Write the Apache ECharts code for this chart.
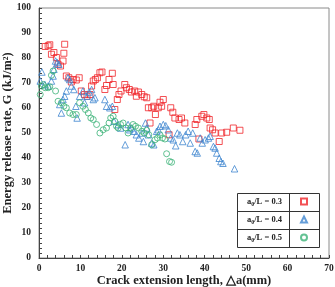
<!DOCTYPE html>
<html lang="en">
<head>
    <meta charset="UTF-8">
    <title>Energy release rate</title>
    <style>
        html, body { margin: 0; padding: 0; background: #fff; }
    </style>
</head>
<body>
<div id="container" style="width:335px;height:287px"></div>
<script type="text/javascript" src="https://cdn.jsdelivr.net/npm/echarts@6/dist/echarts.min.js"></script>
<script type="text/javascript">
    // data: [crack extension (mm), G (kJ/m2)]
    var seriesNames = ['a0/L = 0.3', 'a0/L = 0.4', 'a0/L = 0.5'];
    var seriesColors = ['#f0262a', '#3f86cf', '#3cb378'];
    var xTitle = 'Crack extension length, \u25b3a(mm)';
    var yTitle = 'Energy release rate, G (kJ/m\u00b2)';

    var ratio03 = [
        [1.5, 84.6], [2.2, 84.9], [2.6, 85.3], [3.0, 81.5], [3.6, 82.2], [4.2, 80.2], [4.6, 77.5],
        [5.2, 76.8], [5.8, 78.8], [6.0, 81.9], [6.2, 85.5], [6.6, 72.8], [7.2, 72.1], [7.8, 70.4],
        [8.2, 71.4], [9.0, 71.2], [9.7, 72.1], [10.2, 66.8], [11.0, 65.4], [11.6, 64.7], [12.3, 65.4],
        [12.7, 68.8], [13.1, 70.8], [13.6, 71.4], [14.1, 72.1], [14.7, 74.1], [15.2, 74.4], [15.9, 67.4],
        [16.3, 69.0], [16.9, 71.4], [17.7, 73.9], [17.9, 69.4], [18.3, 59.4], [18.9, 63.4], [19.3, 65.4],
        [19.8, 66.8], [20.7, 69.4], [21.1, 68.1], [21.8, 67.4], [22.3, 66.4], [23.1, 66.8], [23.5, 64.7],
        [24.0, 66.4], [24.8, 65.4], [25.4, 64.5], [26.0, 64.1], [26.4, 60.1], [26.8, 54.0], [27.2, 60.1],
        [27.7, 60.7], [28.1, 57.4], [28.8, 60.1], [29.2, 62.3], [29.6, 60.7], [30.0, 63.4], [31.4, 49.3],
        [31.8, 60.1], [32.3, 58.3], [32.8, 56.0], [33.8, 55.4], [34.4, 56.0], [35.2, 54.0], [37.7, 53.4],
        [38.1, 55.4], [38.6, 47.6], [39.3, 56.7], [39.8, 57.4], [40.5, 56.0], [41.1, 55.4], [41.3, 52.0],
        [41.9, 51.3], [42.5, 50.0], [43.5, 46.6], [44.1, 50.0], [45.3, 50.3], [46.9, 52.0], [48.5, 51.1]
    ];

    var ratio04 = [
        [0.3, 70.8], [0.7, 74.4], [1.4, 69.4], [2.2, 68.8], [3.0, 70.8], [3.4, 72.8], [3.6, 75.5],
        [4.0, 78.8], [4.4, 78.2], [4.8, 77.5], [5.0, 61.4], [5.4, 58.0], [5.8, 63.4], [6.2, 64.7],
        [6.6, 66.8], [7.0, 72.1], [7.4, 71.4], [7.8, 68.8], [8.4, 67.4], [8.9, 60.7], [9.2, 56.0],
        [9.8, 64.7], [10.6, 66.8], [11.0, 62.1], [11.6, 64.7], [12.1, 66.4], [12.7, 67.4], [13.1, 63.4],
        [13.5, 64.1], [15.9, 63.4], [16.3, 60.7], [17.1, 60.1], [17.7, 60.7], [18.1, 54.7], [19.1, 53.4],
        [19.7, 52.0], [20.8, 45.3], [21.5, 53.4], [21.9, 51.3], [22.3, 52.0], [22.9, 50.7], [23.5, 49.3],
        [24.1, 48.0], [24.8, 50.0], [25.2, 46.6], [25.7, 54.0], [26.0, 52.0], [26.4, 49.3], [27.2, 46.0],
        [27.7, 45.3], [28.4, 50.7], [28.8, 51.3], [29.2, 52.7], [30.0, 53.4], [30.6, 52.9], [31.2, 51.3],
        [31.8, 48.0], [32.4, 47.3], [33.0, 44.9], [33.4, 50.0], [34.0, 49.3], [34.7, 46.6], [35.4, 49.3],
        [36.0, 50.7], [36.5, 46.0], [37.1, 50.0], [37.7, 42.6], [38.2, 42.0], [38.9, 48.0], [39.4, 46.0],
        [40.1, 47.3], [40.9, 48.0], [41.3, 48.7], [42.1, 44.6], [42.5, 44.0], [42.9, 42.0], [43.5, 39.9],
        [43.9, 38.6], [44.4, 37.9], [47.2, 35.7]
    ];

    var ratio05 = [
        [0.3, 65.4], [0.6, 68.8], [1.0, 69.4], [1.5, 68.1], [2.2, 68.1], [2.6, 68.5], [3.0, 73.1],
        [3.4, 74.8], [4.0, 66.8], [4.6, 62.7], [5.4, 62.1], [6.0, 60.7], [6.6, 60.1], [7.4, 58.0],
        [8.2, 57.4], [9.0, 57.4], [9.8, 62.1], [10.6, 60.7], [11.2, 59.4], [11.9, 58.0], [12.5, 56.0],
        [13.1, 55.4], [13.9, 53.4], [14.7, 50.0], [15.5, 51.3], [16.3, 52.0], [16.9, 54.0], [17.3, 56.0],
        [17.9, 56.7], [18.3, 54.7], [18.7, 52.7], [19.1, 52.0], [19.7, 53.4], [20.3, 54.0], [21.0, 52.0],
        [21.5, 50.0], [22.1, 52.0], [22.7, 53.4], [23.3, 52.7], [24.0, 52.0], [24.8, 50.7], [25.4, 50.0],
        [26.0, 51.1], [26.5, 49.3], [27.2, 45.3], [28.0, 47.3], [28.6, 48.0], [29.2, 49.3], [29.8, 48.0],
        [30.4, 47.6], [30.8, 41.7], [31.5, 38.6], [32.0, 38.3]
    ];

    var seriesData = [ratio03, ratio04, ratio05];
    var seriesSymbols = ['rect', 'triangle', 'circle'];

    var serifFont = '"Liberation Serif", "Times New Roman", serif';
    var titleFont = 'bold 12.5px ' + serifFont;

    var dom = document.getElementById('container');
    var myChart = echarts.init(dom, null, {renderer: 'canvas'});

    var series = seriesNames.map(function (name, i) {
        return {
            name: name,
            type: 'scatter',
            data: seriesData[i],
            symbol: seriesSymbols[i],
            symbolSize: i === 1 ? 6.5 : 6,
            itemStyle: {
                color: 'rgba(255,255,255,0)',
                borderColor: seriesColors[i],
                borderWidth: 1
            },
            emphasis: {disabled: true}
        };
    });

    var option = {
        animation: false,
        backgroundColor: '#fff',
        grid: {
            left: 39, right: 6, top: 8, bottom: 29,
            outerBoundsMode: 'none',
            containLabel: false,
            show: true,
            borderColor: '#8a8a8a',
            borderWidth: 1
        },
        xAxis: {
            type: 'value',
            min: 0, max: 70, interval: 10,
            axisLine: {lineStyle: {color: '#444', width: 1}},
            axisTick: {inside: true, length: 3, lineStyle: {color: '#444'}},
            minorTick: {show: true, splitNumber: 5, length: 3, lineStyle: {color: '#444'}},
            axisLabel: {fontFamily: serifFont, fontWeight: 'bold', fontSize: 9.5, color: '#222', margin: 6},
            splitLine: {show: false}
        },
        yAxis: {
            type: 'value',
            min: 0, max: 100, interval: 10,
            axisLine: {show: true, lineStyle: {color: '#444', width: 1}},
            axisTick: {show: true, inside: true, length: 3, lineStyle: {color: '#444'}},
            minorTick: {show: true, splitNumber: 5, length: 3, lineStyle: {color: '#444'}},
            axisLabel: {fontFamily: serifFont, fontWeight: 'bold', fontSize: 9.5, color: '#222', margin: 8},
            splitLine: {show: false}
        },
        legend: {
            orient: 'vertical',
            align: 'right',
            right: 27,
            top: 197,
            padding: 0,
            itemWidth: 6,
            itemHeight: 6,
            itemGap: 7.5,
            selectedMode: false,
            formatter: function (name) {
                return '{n|a}{s|0}{n|' + name.slice(2) + '}';
            },
            textStyle: {
                padding: [0, 14, 0, 0],
                rich: {
                    n: {fontFamily: serifFont, fontWeight: 'bold', fontSize: 8.5, color: '#222', lineHeight: 12},
                    s: {fontFamily: serifFont, fontWeight: 'bold', fontSize: 6, color: '#222', lineHeight: 12, verticalAlign: 'bottom'}
                }
            }
        },
        graphic: [
            // axis titles
            {type: 'text', x: 184, y: 281, style: {text: xTitle, font: titleFont, fill: '#222', align: 'center', verticalAlign: 'middle'}},
            {type: 'text', x: 8, y: 133, rotation: Math.PI / 2, style: {text: yTitle, font: titleFont, fill: '#222', align: 'center', verticalAlign: 'middle'}},
            // table frame round the legend
            {type: 'rect', shape: {x: 237.5, y: 193.5, width: 82, height: 54}, style: {fill: 'none', stroke: '#333', lineWidth: 1}, z: 10},
            {type: 'line', shape: {x1: 237.5, y1: 211.5, x2: 319.5, y2: 211.5}, style: {stroke: '#333', lineWidth: 1}, z: 10},
            {type: 'line', shape: {x1: 237.5, y1: 229.5, x2: 319.5, y2: 229.5}, style: {stroke: '#333', lineWidth: 1}, z: 10},
            {type: 'line', shape: {x1: 289.5, y1: 193.5, x2: 289.5, y2: 247.5}, style: {stroke: '#333', lineWidth: 1}, z: 10}
        ],
        series: series
    };

    if (option && typeof option === 'object') {
        myChart.setOption(option);
    }

    window.addEventListener('resize', myChart.resize);
</script>
</body>
</html>
